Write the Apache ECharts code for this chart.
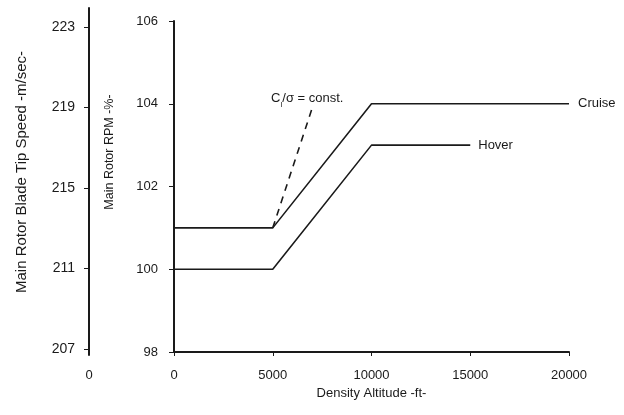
<!DOCTYPE html>
<html>
<head>
<meta charset="utf-8">
<script src="https://cdn.jsdelivr.net/npm/echarts@6/dist/echarts.min.js"></script>
<style>
  html, body { margin: 0; padding: 0; background: #fff; }
  #chart { width: 624px; height: 415px; }
</style>
</head>
<body>
<div id="chart"></div>
<script>
// Main rotor RPM schedule vs. density altitude
const cruiseAltitude = [0, 5000, 10000, 20000];
const cruiseRpm = [101, 101, 104, 104];
const hoverAltitude = [0, 5000, 10000, 15000];
const hoverRpm = [100, 100, 103, 103];
const constLoadingAltitude = [5000, 7000];
const constLoadingRpm = [101, 103.9];

const altitudeTicks = [0, 5000, 10000, 15000, 20000];
const rpmTicks = [98, 100, 102, 104, 106];
const tipSpeedTicks = [207, 211, 215, 219, 223];
const tipSpeedZero = [0];

const FONT = '"Liberation Sans", Arial, sans-serif';
const INK = '#1a1a1a';

const zip = (xs, ys) => xs.map((x, i) => [x, ys[i]]);

const chart = echarts.init(document.getElementById('chart'), null, { renderer: 'canvas' });

const constPts = zip(constLoadingAltitude, constLoadingRpm);
const constTop = constPts[constPts.length - 1];

chart.setOption({
  animation: false,
  backgroundColor: '#ffffff',
  textStyle: { fontFamily: FONT, color: INK },
  grid: [
    { left: 174, right: 55, top: 21, bottom: 63, containLabel: false },
    { left: 89, width: 1, top: 8, bottom: 60, containLabel: false }
  ],
  xAxis: [
    {
      gridIndex: 0, type: 'value', min: 0, max: 20000, interval: 5000,
      name: 'Density Altitude -ft-', nameLocation: 'middle', nameGap: 34,
      nameTextStyle: { fontFamily: FONT, fontSize: 13, color: INK },
      axisLine: { show: true, onZero: false, lineStyle: { color: INK, width: 2 } },
      axisTick: { show: true, length: 4, customValues: altitudeTicks, lineStyle: { color: INK, width: 1 } },
      axisLabel: {
        fontFamily: FONT, fontSize: 13, color: INK, margin: 17,
        customValues: altitudeTicks, formatter: (v) => String(v)
      },
      splitLine: { show: false }
    },
    {
      gridIndex: 1, type: 'value', min: 0, max: 1,
      axisLine: { show: false },
      axisTick: { show: false },
      axisLabel: {
        fontFamily: FONT, fontSize: 13, color: INK, margin: 14,
        customValues: tipSpeedZero, formatter: (v) => String(v)
      },
      splitLine: { show: false }
    }
  ],
  yAxis: [
    {
      gridIndex: 0, type: 'value', min: 98, max: 106, interval: 2,
      axisLine: { show: true, onZero: false, lineStyle: { color: INK, width: 2 } },
      axisTick: { show: true, length: 5, customValues: rpmTicks, lineStyle: { color: INK, width: 1 } },
      axisLabel: { fontFamily: FONT, fontSize: 13, color: INK, margin: 16, customValues: rpmTicks },
      splitLine: { show: false }
    },
    {
      gridIndex: 1, type: 'value', min: 206.7, max: 223.94,
      axisLine: { show: true, onZero: false, lineStyle: { color: INK, width: 2 } },
      axisTick: { show: true, length: 5, customValues: tipSpeedTicks, lineStyle: { color: INK, width: 1 } },
      axisLabel: { fontFamily: FONT, fontSize: 14, color: INK, margin: 14, customValues: tipSpeedTicks },
      splitLine: { show: false }
    }
  ],
  graphic: [
    {
      type: 'text', x: 22, y: 172, rotation: Math.PI / 2,
      style: {
        text: 'Main Rotor Blade Tip Speed -m/sec-',
        font: '15px ' + FONT, fill: INK, align: 'center', verticalAlign: 'middle'
      }
    },
    {
      type: 'text', x: 110, y: 152, rotation: Math.PI / 2,
      style: {
        text: 'Main Rotor RPM -%-',
        font: '12.5px ' + FONT, fill: INK, align: 'center', verticalAlign: 'middle'
      }
    }
  ],
  series: [
    {
      name: 'Cruise', type: 'line', xAxisIndex: 0, yAxisIndex: 0,
      data: zip(cruiseAltitude, cruiseRpm),
      showSymbol: false, symbol: 'none',
      lineStyle: { color: INK, width: 1.6 },
      endLabel: { show: true, formatter: '{a}', distance: 9, fontFamily: FONT, fontSize: 13, color: INK }
    },
    {
      name: 'Hover', type: 'line', xAxisIndex: 0, yAxisIndex: 0,
      data: zip(hoverAltitude, hoverRpm),
      showSymbol: false, symbol: 'none',
      lineStyle: { color: INK, width: 1.6 },
      endLabel: { show: true, formatter: '{a}', distance: 8, fontFamily: FONT, fontSize: 13, color: INK }
    },
    {
      name: 'Constant blade loading', type: 'line', xAxisIndex: 0, yAxisIndex: 0,
      data: constPts,
      showSymbol: false, symbol: 'none',
      lineStyle: { color: INK, width: 1.6, type: [7, 6] },
      // caption placed just above the upper end of the dashed line
      markPoint: {
        symbol: 'circle', symbolSize: 1,
        itemStyle: { color: 'rgba(0,0,0,0)' },
        label: {
          show: true,
          position: 'top',
          distance: 3,
          offset: [-5, 4],
          formatter: '{c|C}{s|l}{c|/σ = const.}',
          rich: {
            c: { fontFamily: FONT, fontSize: 13, color: INK, lineHeight: 15 },
            s: { fontFamily: FONT, fontSize: 8, color: INK, lineHeight: 19, verticalAlign: 'bottom' }
          }
        },
        data: [{ coord: constTop }]
      }
    }
  ]
});
</script>
</body>
</html>
